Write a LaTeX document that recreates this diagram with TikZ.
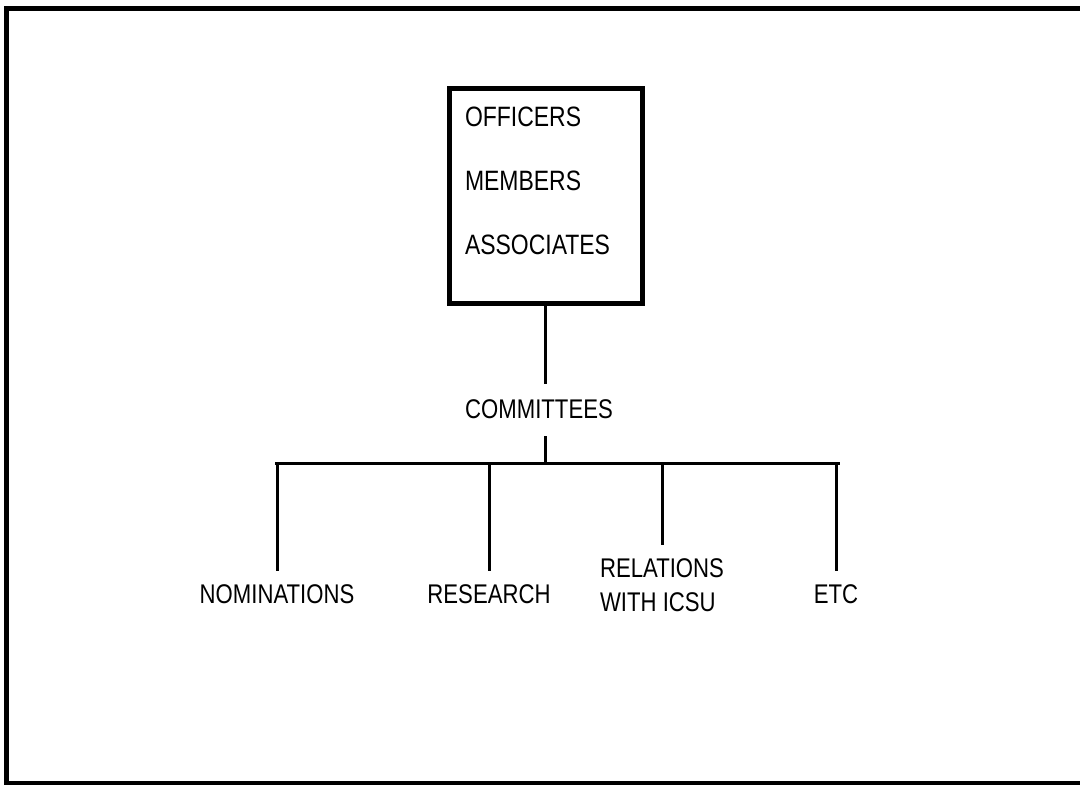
\documentclass[tikz,border=0pt]{standalone}
\usepackage{fontspec}
\setmainfont[FakeStretch=0.82]{Liberation Sans}
\begin{document}
\begin{tikzpicture}[x=1pt, y=-1pt, line join=miter, line cap=rect,
        every node/.style={inner sep=0pt, outer sep=0pt},
        member/.style={anchor=base west, font=\fontsize{28pt}{34pt}\selectfont},
        leaf/.style={anchor=north, outer ysep=16pt, align=left, font=\fontsize{27pt}{34pt}\selectfont},
        link/.style={line width=3pt}]
        \useasboundingbox (0,0) rectangle (1080,785);
        \draw[line width=5pt, line cap=butt] (1080,8.5) -- (6.5,8.5) -- (6.5,783) -- (1080,783);
        % top box
        \node[draw, line width=5pt, minimum width=193pt, minimum height=215pt] (council) at (545.5,195.5) {};
        \node[member] (officers) at (465,126.5) {OFFICERS};
        \node[member] (members) at (465,190.5) {MEMBERS};
        \node[member] (associates) at (465,254.5) {ASSOCIATES};
        \node[font=\fontsize{27pt}{34pt}\selectfont, minimum height=55pt] (committees) at (539,409.5) {COMMITTEES};
        \coordinate (bar west) at (276,463);
        \coordinate (bar east) at (838,463);
        % committees
        \node[leaf] (nominations) at (277,569) {NOMINATIONS};
        \node[leaf] (research) at (489,569) {RESEARCH};
        \node[leaf] (relations) at (662,543) {RELATIONS\\WITH ICSU};
        \node[leaf] (etc) at (836,569) {ETC};
        \draw[link] (council.south) -- (council.south |- committees.north);
        \draw[link] (council.south |- committees.south) -- (council.south |- bar west);
        \draw[link] (bar west) -- (bar east);
        \foreach \leaf in {nominations, research, relations, etc}
            \draw[link] (\leaf.north |- bar west) -- (\leaf.north);
    \end{tikzpicture}
\end{document}
